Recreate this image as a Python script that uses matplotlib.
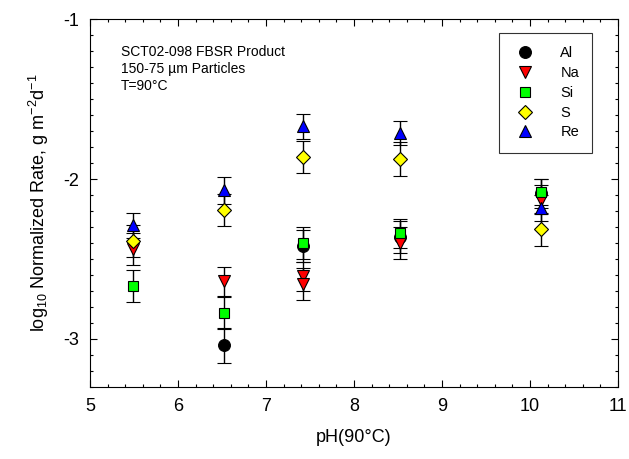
import matplotlib
matplotlib.use("Agg")
import matplotlib.pyplot as plt
from matplotlib.lines import Line2D
from matplotlib.ticker import MultipleLocator

plt.rcParams["font.family"] = ["Liberation Sans", "DejaVu Sans"]
plt.rcParams["mathtext.fontset"] = "custom"
plt.rcParams["mathtext.rm"] = "Liberation Sans"
plt.rcParams["mathtext.it"] = "Liberation Sans"
plt.rcParams["axes.unicode_minus"] = False

# values
al_ph = [6.52, 7.42, 8.52, 10.12]
al_rate = [-3.04, -2.42, -2.36, -2.09]
al_err = [0.11, 0.10, 0.10, 0.09]

na_ph = [5.49, 6.52, 7.42, 7.42, 8.52, 10.12]
na_rate = [-2.44, -2.64, -2.61, -2.66, -2.40, -2.13]
na_err = [0.10, 0.09, 0.09, 0.10, 0.10, 0.09]

si_ph = [5.49, 6.52, 7.42, 8.52, 10.12]
si_rate = [-2.67, -2.84, -2.40, -2.34, -2.08]
si_err = [0.10, 0.10, 0.10, 0.09, 0.08]

s_ph = [5.49, 6.52, 7.42, 8.52, 10.12]
s_rate = [-2.39, -2.195, -1.86, -1.875, -2.315]
s_err = [0.10, 0.10, 0.10, 0.105, 0.105]

re_ph = [5.49, 6.52, 7.42, 8.52, 10.12]
re_rate = [-2.29, -2.07, -1.67, -1.71, -2.18]
re_err = [0.08, 0.085, 0.08, 0.075, 0.08]

series = [
    ("Al", al_ph, al_rate, al_err, "o", "black", 8.5),
    ("Na", na_ph, na_rate, na_err, "v", "red", 8.5),
    ("Si", si_ph, si_rate, si_err, "s", "#00ff00", 7.5),
    ("S", s_ph, s_rate, s_err, "D", "yellow", 7.0),
    ("Re", re_ph, re_rate, re_err, "^", "blue", 8.5),
]

fig = plt.figure(figsize=(6.29, 4.59), dpi=100)
ax = fig.add_axes([90 / 629, 1 - 386.7 / 459, 528 / 629, 367.4 / 459])

handles = []
for name, x, y, e, m, c, ms in series:
    ax.errorbar(x, y, yerr=e, fmt=m, color=c, mfc=c, mec="black", mew=0.8,
                ms=ms, ecolor="black", elinewidth=1, capsize=5, capthick=1)
    handles.append(Line2D([], [], ls="none", marker=m, mfc=c, mec="black",
                          mew=0.8, ms=ms, label=name))

ax.set_xlim(5, 11)
ax.set_ylim(-3.3, -1)
ax.xaxis.set_major_locator(MultipleLocator(1))
ax.xaxis.set_minor_locator(MultipleLocator(0.2))
ax.yaxis.set_major_locator(MultipleLocator(1))
ax.yaxis.set_minor_locator(MultipleLocator(0.1))
ax.tick_params(which="both", direction="in", top=True, right=True, labelsize=13, width=0.8)
ax.tick_params(which="major", length=5, pad=8)
ax.tick_params(which="minor", length=2.5)
for sp in ax.spines.values():
    sp.set_linewidth(0.8)

ax.set_xlabel("pH(90°C)", fontsize=13, labelpad=10)
ax.set_ylabel("log$_{10}$ Normalized Rate, g m$^{-2}$d$^{-1}$", fontsize=13, labelpad=9)

ax.text(0.058, 0.93, "SCT02-098 FBSR Product\n150-75 µm Particles\nT=90°C",
        transform=ax.transAxes, fontsize=10, va="top", ha="left", linespacing=1.25)

leg = ax.legend(handles=handles, loc="upper left",
                bbox_to_anchor=(499 / 629, 1 - 33 / 459),
                bbox_transform=fig.transFigure, borderaxespad=0, frameon=True,
                fancybox=False, edgecolor="black", fontsize=10.5, handletextpad=1.5,
                borderpad=0.9, labelspacing=0.4, handlelength=1.8)
leg.get_frame().set_linewidth(0.8)

fig.savefig("out.png", dpi=100)
